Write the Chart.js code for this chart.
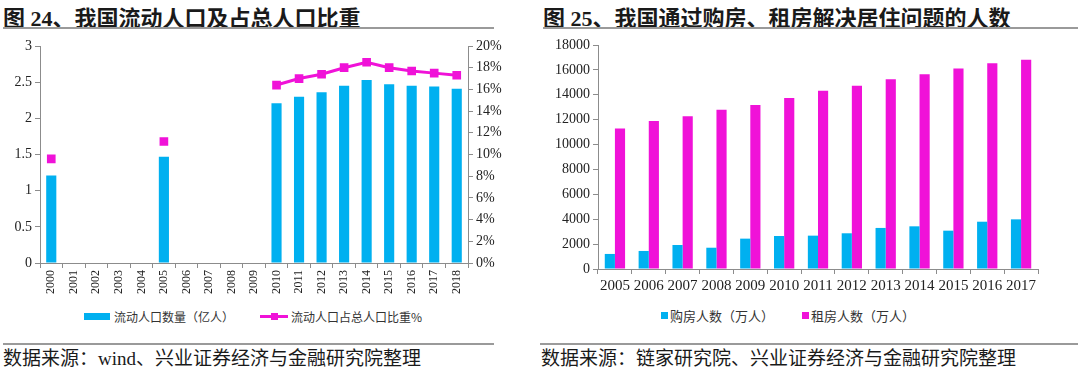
<!DOCTYPE html>
<html>
<head>
<meta charset="utf-8">
<script src="https://cdn.jsdelivr.net/npm/chart.js@4/dist/chart.umd.min.js"></script>
<style>
  html, body { margin: 0; padding: 0; background: #fff; }
  body { width: 1080px; height: 369px; position: relative; overflow: hidden;
         font-family: "Liberation Serif", "Noto Sans CJK SC", serif; color: #1a1a1a; }
  .abs { position: absolute; }
  .title { font-size: 22px; font-weight: bold; top: 0px; white-space: nowrap; }
  .rule { height: 2px; background: #9a9a9a; }
  .foot { font-size: 19px; top: 343px; white-space: nowrap; }
  .leg { font-size: 12px; white-space: nowrap; color: #333; font-family: "Noto Sans CJK SC", sans-serif; }
  canvas { position: absolute; }
</style>
</head>
<body>
<div class="abs title" style="left:3px">图 24、我国流动人口及占总人口比重</div>
<div class="abs rule" style="left:3px; top:27px; width:491px"></div>
<div class="abs title" style="left:543px">图 25、我国通过购房、租房解决居住问题的人数</div>
<div class="abs rule" style="left:543px; top:27px; width:535px"></div>

<div style="position:absolute; left:0; top:0; width:540px; height:300px"><canvas id="c1"></canvas></div>
<div style="position:absolute; left:540px; top:0; width:540px; height:300px"><canvas id="c2"></canvas></div>

<!-- legends -->
<div class="abs" style="left:84px; top:313px; width:26px; height:7px; background:#00b0f0"></div>
<div class="abs leg" style="left:114px; top:308px">流动人口数量（亿人）</div>
<div class="abs" style="left:260px; top:315px; width:28px; height:3px; background:#f012d8"></div>
<div class="abs" style="left:271px; top:313px; width:7px; height:7px; background:#f012d8"></div>
<div class="abs leg" style="left:291px; top:308px">流动人口占总人口比重%</div>

<div class="abs" style="left:661px; top:312px; width:7px; height:7px; background:#00b0f0"></div>
<div class="abs leg" style="left:670px; top:306px; font-size:13px">购房人数（万人）</div>
<div class="abs" style="left:802px; top:312px; width:7px; height:7px; background:#f012d8"></div>
<div class="abs leg" style="left:811px; top:306px; font-size:13px">租房人数（万人）</div>

<div class="abs rule" style="left:3px; top:343px; width:491px"></div>
<div class="abs foot" style="left:3px">数据来源：wind、兴业证券经济与金融研究院整理</div>
<div class="abs rule" style="left:540px; top:343px; width:538px"></div>
<div class="abs foot" style="left:541px">数据来源：链家研究院、兴业证券经济与金融研究院整理</div>

<script>
// Figure 24: floating population (100 million) and share of total population (%)
const years24 = ['2000','2001','2002','2003','2004','2005','2006','2007','2008','2009',
                 '2010','2011','2012','2013','2014','2015','2016','2017','2018'];
const floatPop = [1.21, null, null, null, null, 1.47, null, null, null, null,
                  2.21, 2.30, 2.36, 2.45, 2.53, 2.47, 2.45, 2.44, 2.41];
const floatShare = [9.6, null, null, null, null, 11.2, null, null, null, null,
                    16.4, 17.0, 17.4, 18.0, 18.5, 18.0, 17.7, 17.5, 17.3];

// Figure 25: people solving housing by buying vs renting (10k people)
const years25 = ['2005','2006','2007','2008','2009','2010','2011','2012','2013','2014','2015','2016','2017'];
const buyers  = [1210, 1450, 1930, 1710, 2440, 2650, 2680, 2870, 3300, 3430, 3080, 3800, 3990];
const renters = [11300, 11890, 12270, 12800, 13180, 13740, 14330, 14730, 15240, 15640, 16120, 16530, 16820];

const BLUE = '#00b0f0';
const PINK = '#f012d8';
const AXIS = '#8c8c8c';
const TICK_FONT = { family: "'Liberation Serif', serif", size: 14 };

function axisGrid() {
  return { display: true, drawOnChartArea: false, drawTicks: true, tickLength: 5, color: AXIS };
}

new Chart(document.getElementById('c1'), {
  type: 'bar',
  data: {
    labels: years24,
    datasets: [
      { type: 'line', label: '流动人口占总人口比重%', data: floatShare, yAxisID: 'y2',
        borderColor: PINK, backgroundColor: PINK, borderWidth: 3,
        pointStyle: 'rect', pointRadius: 4, pointHoverRadius: 4, spanGaps: false, order: 0 },
      { label: '流动人口数量（亿人）', data: floatPop, yAxisID: 'y',
        backgroundColor: BLUE, borderWidth: 0, categoryPercentage: 0.9, barPercentage: 0.5, order: 1 },
    ],
  },
  options: {
    responsive: true,
    maintainAspectRatio: false,
    animation: false,
    layout: { padding: { top: 46, left: 0, right: 0, bottom: 0 } },
    plugins: { legend: { display: false }, tooltip: { enabled: false } },
    scales: {
      x: {
        grid: axisGrid(), border: { color: AXIS },
        ticks: { color: '#222', font: { family: "'Liberation Serif', serif", size: 12 },
                 minRotation: 90, maxRotation: 90, padding: 2, autoSkip: false },
        afterFit: (s) => { s.height = 37; },
      },
      y: {
        position: 'left', min: 0, max: 3,
        grid: axisGrid(), border: { color: AXIS },
        ticks: { stepSize: 0.5, color: '#222', font: TICK_FONT, padding: 3, callback: (v) => String(v) },
        afterFit: (s) => { s.width = 40; },
      },
      y2: {
        position: 'right', min: 0, max: 20,
        grid: axisGrid(), border: { color: AXIS },
        ticks: { stepSize: 2, color: '#222', font: TICK_FONT, padding: 3, callback: (v) => v + '%' },
        afterFit: (s) => { s.width = 72; },
      },
    },
  },
});

new Chart(document.getElementById('c2'), {
  type: 'bar',
  data: {
    labels: years25,
    datasets: [
      { label: '购房人数（万人）', data: buyers, backgroundColor: BLUE, borderWidth: 0,
        categoryPercentage: 0.6, barPercentage: 1.0 },
      { label: '租房人数（万人）', data: renters, backgroundColor: PINK, borderWidth: 0,
        categoryPercentage: 0.6, barPercentage: 1.0 },
    ],
  },
  options: {
    responsive: true,
    maintainAspectRatio: false,
    animation: false,
    layout: { padding: { top: 45, left: 0, right: 42, bottom: 0 } },
    plugins: { legend: { display: false }, tooltip: { enabled: false } },
    scales: {
      x: {
        grid: axisGrid(), border: { color: AXIS },
        ticks: { color: '#222', font: { family: "'Liberation Serif', serif", size: 15 },
                 maxRotation: 0, minRotation: 0, padding: 3, autoSkip: false },
        afterFit: (s) => { s.height = 31; },
      },
      y: {
        min: 0, max: 18000,
        grid: axisGrid(), border: { color: AXIS },
        ticks: { stepSize: 2000, color: '#222', font: TICK_FONT, padding: 3, callback: (v) => String(v) },
        afterFit: (s) => { s.width = 58; },
      },
    },
  },
});
</script>
</body>
</html>
